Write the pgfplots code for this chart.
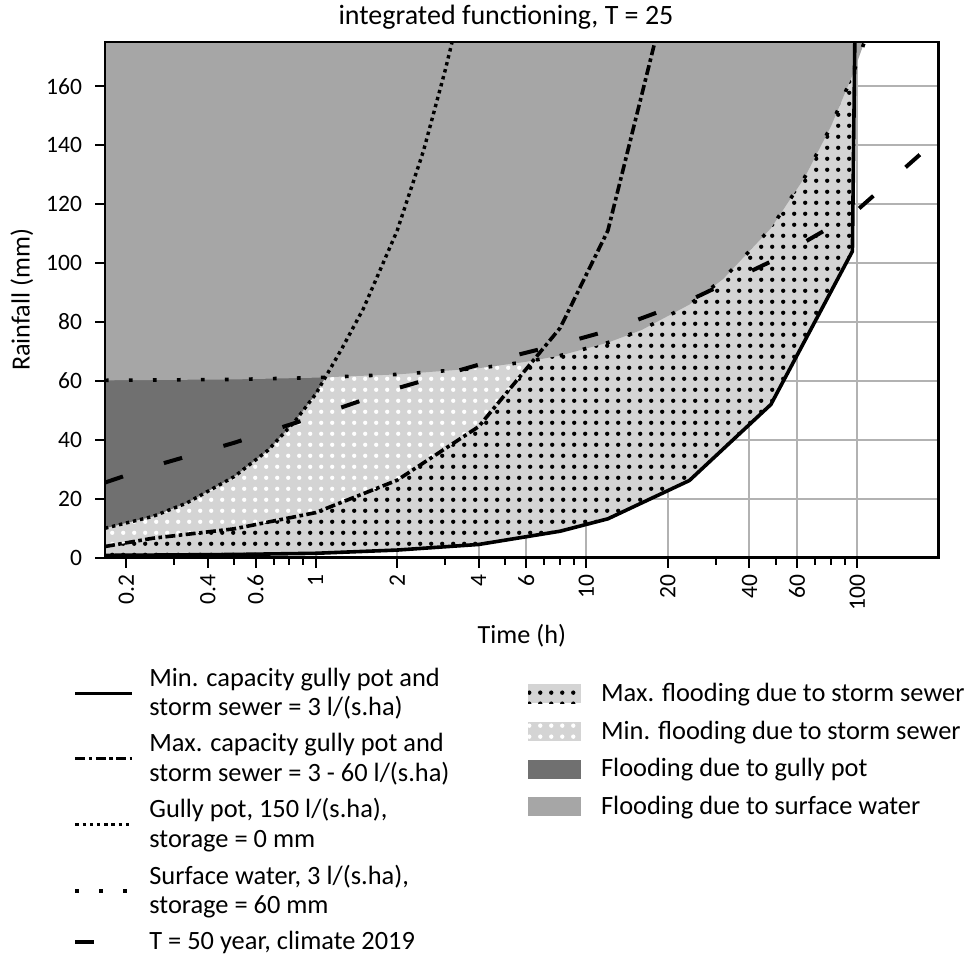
\documentclass[border=0pt]{standalone}
\usepackage{fontspec}
\setmainfont{Carlito}
\usepackage{pgfplots}
\pgfplotsset{compat=1.18}
\usetikzlibrary{patterns}

\pgfdeclarepatternformonly{bigdots}{\pgfqpoint{0pt}{0pt}}{\pgfqpoint{5.35pt}{5.35pt}}{\pgfqpoint{5.35pt}{5.35pt}}{%
  \pgfpathcircle{\pgfqpoint{2.675pt}{2.675pt}}{1.1pt}\pgfusepath{fill}}

\definecolor{surfgrey}{RGB}{166,166,166}
\definecolor{gullygrey}{RGB}{112,112,112}
\definecolor{floodgrey}{RGB}{212,212,212}
\definecolor{gridgrey}{RGB}{178,178,178}

\tikzset{
  mincap/.style={black, line width=1.8pt},
  maxcap/.style={black, line width=1.8pt, dash pattern=on 5pt off 1.7pt on 1.8pt off 1.7pt},
  gullyline/.style={black, line width=1.7pt, dash pattern=on 1.7pt off 1.9pt},
  surfline/.style={black, line width=1.8pt, dash pattern=on 1.8pt off 10.2pt},
  tfifty/.style={black, line width=2pt, dash pattern=on 9.5pt off 21.5pt},
}

\begin{document}
\begin{tikzpicture}
\useasboundingbox (-52.5pt,-198.65pt) rectangle (434pt,278.85pt);
\begin{axis}[
  at={(0pt,0pt)}, anchor=south west,
  scale only axis, width=416.85pt, height=257.85pt,
  clip mode=individual,
  xmode=log, xmin=0.1667, xmax=200, ymin=0, ymax=175,
  xtick={0.2,0.4,0.6,1,2,4,6,10,20,40,60,100},
  xticklabels={0.2,0.4,0.6,1,2,4,6,10,20,40,60,100},
  minor xtick={0.3,0.5,0.7,0.8,0.9,3,5,7,8,9,30,50,70,80,90},
  ytick={0,20,40,60,80,100,120,140,160},
  xtick pos=bottom, ytick pos=left, tick align=outside,
  major tick length=5pt, minor tick length=3.5pt,
  tick style={black, line width=1pt},
  axis line style={line width=1.3pt},
  xmajorgrids, ymajorgrids,
  major grid style={gridgrey, line width=1pt},
  /pgf/number format/assume math mode=true,
  tick label style={font=\fontsize{11.75}{13}\selectfont},
  xticklabel style={rotate=90, anchor=east},
  yticklabel style={xshift=-3pt},
  xlabel={Time (h)},
  xlabel style={at={(axis description cs:0.5,-0.1654)}, anchor=base, font=\fontsize{13.1}{15}\selectfont},
  ylabel={Rainfall (mm)},
  ylabel style={at={(axis description cs:-0.0996,0.5)}, anchor=center, font=\fontsize{13.1}{15}\selectfont},
  legend cell align=left,
  legend style={at={(axis description cs:-0.0384,-0.2089)}, anchor=north west, draw=none, fill=none,
    inner sep=0pt, row sep=5.2pt, font=\fontsize{13.2}{14.8}\selectfont,
    nodes={align=left, inner ysep=1pt, inner xsep=2pt},
    /tikz/every odd column/.append style={column sep=5.5pt}},
  legend image code/.code={\draw[#1] (0pt,0pt) -- (28.5pt,0pt);},
]
% max flooding (above min capacity line)
\addplot[draw=none, fill=floodgrey, forget plot]
 coordinates {(0.1667,0.8) (0.25,0.9) (0.5,1.1) (1,1.5) (2,2.6) (4,4.5) (8,9.0) (12,13.2) (24,26.2) (48,52.0) (96,104.0) (98.7,200) (0.1667,200) (0.1667,0.8)};
\addplot[draw=none, pattern=bigdots, pattern color=black, forget plot]
 coordinates {(0.1667,0.8) (0.25,0.9) (0.5,1.1) (1,1.5) (2,2.6) (4,4.5) (8,9.0) (12,13.2) (24,26.2) (48,52.0) (96,104.0) (98.7,200) (0.1667,200) (0.1667,0.8)};
% min flooding (above max capacity line)
\addplot[draw=none, fill=floodgrey, forget plot]
 coordinates {(0.1667,3.8) (0.25,6.6) (0.5,9.8) (1,15.3) (2,26.3) (4,44.5) (8,78) (12,111) (24,222) (0.1667,222) (0.1667,3.8)};
\addplot[draw=none, pattern=bigdots, pattern color=white, forget plot]
 coordinates {(0.1667,3.8) (0.25,6.6) (0.5,9.8) (1,15.3) (2,26.3) (4,44.5) (8,78) (12,111) (24,222) (0.1667,222) (0.1667,3.8)};
% gully pot
\addplot[draw=none, fill=gullygrey, forget plot]
 coordinates {(0.1667,10) (0.25,14) (0.333,18.5) (0.5,27.5) (0.667,36.5) (0.833,46) (1,55.5) (1.25,71) (1.5,84.5) (2,111) (2.5,138) (3,165) (3.25,178) (0.1667,178) (0.1667,10)};
% surface water
\addplot[draw=none, fill=surfgrey, forget plot]
 coordinates {(0.1667,60.2) (0.5,60.5) (1,61.1) (2,62.2) (4,64.3) (6,66.5) (8,68.6) (12,73.0) (16,77.3) (24,85.9) (32,94.6) (48,111.8) (64,129.1) (80,146.4) (96,163.7) (110,178.8) (0.1667,178.8) (0.1667,60.2)};

% lines
\addplot[mincap, forget plot] coordinates {(0.1667,0.8) (0.25,0.9) (0.5,1.1) (1,1.5) (2,2.6) (4,4.5) (8,9.0) (12,13.2) (24,26.2) (48,52.0) (96,104.0) (98.7,200)};
\addplot[maxcap, forget plot] coordinates {(0.1667,3.8) (0.25,6.6) (0.5,9.8) (1,15.3) (2,26.3) (4,44.5) (8,78) (12,111) (24,222)};
\addplot[gullyline, forget plot] coordinates {(0.1667,10) (0.25,14) (0.333,18.5) (0.5,27.5) (0.667,36.5) (0.833,46) (1,55.5) (1.25,71) (1.5,84.5) (2,111) (2.5,138) (3,165) (3.25,178)};
\addplot[surfline, forget plot] coordinates {(0.1667,60.2) (0.5,60.5) (1,61.1) (2,62.2) (4,64.3) (6,66.5) (8,68.6) (12,73.0) (16,77.3) (24,85.9) (32,94.6) (48,111.8) (64,129.1) (80,146.4) (96,163.7) (110,178.8)};
\addplot[tfifty, forget plot] coordinates {(0.1667,25.5) (0.25,31) (0.5,39) (1,48) (2,57.5) (4,65.5) (8,72.5) (12,77) (24,87.3) (48,100.5) (96,116.5) (192,141)};

\draw[line width=1.3pt] (rel axis cs:0,0) rectangle (rel axis cs:1,1);
\node[anchor=base, inner sep=0pt, font=\fontsize{14}{16}\selectfont] at (axis description cs:0.481,1.033) {integrated functioning, T = 25};

\addlegendimage{mincap}
\addlegendentry{Min. capacity gully pot and\\storm sewer = 3 l/(s.ha)}
\addlegendimage{maxcap}
\addlegendentry{Max. capacity gully pot and\\storm sewer = 3 - 60 l/(s.ha)}
\addlegendimage{gullyline}
\addlegendentry{Gully pot, 150 l/(s.ha),\\storage = 0 mm}
\addlegendimage{surfline}
\addlegendentry{Surface water, 3 l/(s.ha),\\storage = 60 mm}
\addlegendimage{tfifty}
\addlegendentry{T = 50 year, climate 2019}
\end{axis}

\begin{axis}[
  at={(0pt,0pt)}, anchor=south west,
  scale only axis, width=416.85pt, height=257.85pt,
  hide axis, xmin=0, xmax=1, ymin=0, ymax=1,
  legend cell align=left,
  legend style={at={(axis description cs:0.507,-0.2386)}, anchor=north west, draw=none, fill=none,
    inner sep=0pt, row sep=6.15pt, font=\fontsize{13.2}{14.5}\selectfont,
    nodes={inner ysep=1pt, inner xsep=2pt},
    /tikz/every odd column/.append style={column sep=8pt}},
  legend image code/.code={\fill[#1, draw=none] (0pt,-4.75pt) rectangle (26.5pt,4.75pt);},
]
\addlegendimage{fill=floodgrey, draw=none, postaction={pattern=bigdots, pattern color=black}}
\addlegendentry{Max. flooding due to storm sewer}
\addlegendimage{fill=floodgrey, draw=none, postaction={pattern=bigdots, pattern color=white}}
\addlegendentry{Min. flooding due to storm sewer}
\addlegendimage{fill=gullygrey, draw=none}
\addlegendentry{Flooding due to gully pot}
\addlegendimage{fill=surfgrey, draw=none}
\addlegendentry{Flooding due to surface water}
\end{axis}
\end{tikzpicture}
\end{document}
